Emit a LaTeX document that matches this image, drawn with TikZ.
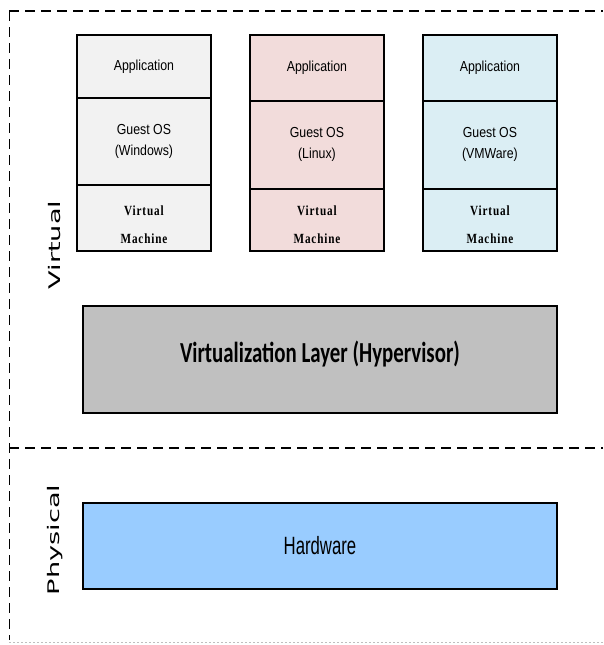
\documentclass[tikz,border=0pt]{standalone}
\usepackage{fontspec}
\setmainfont{Liberation Sans}
\newfontfamily\narrowfont[FakeStretch=0.85]{Liberation Sans}
\newfontfamily\vmfont[FakeStretch=0.8, LetterSpace=6]{Liberation Serif}
\newfontfamily\hvfont[FakeStretch=0.72]{Carlito}
\newfontfamily\sidefont{DejaVu Sans}
\newfontfamily\hwfont[FakeStretch=0.67]{Liberation Sans}
\usetikzlibrary{positioning}

\definecolor{winfill}{HTML}{F2F2F2}
\definecolor{linfill}{HTML}{F2DCDB}
\definecolor{vmwfill}{HTML}{DBEEF4}
\definecolor{hvfill}{HTML}{C0C0C0}
\definecolor{hwfill}{HTML}{99CCFF}

\tikzset{
  layer/.style={draw=black, line width=0.9pt, minimum width=133pt, inner sep=0pt, align=center, font=\narrowfont\fontsize{14.5}{21}\selectfont},
  vmtext/.style={inner sep=0pt, align=center, font=\vmfont\bfseries\fontsize{14}{28.5}\selectfont},
  bigbox/.style={draw=black, line width=2pt, minimum width=474pt, inner sep=0pt},
  sidelabel/.style={rotate=90, xscale=1.7, font=\sidefont\fontsize{16}{16}\selectfont},
  frame/.style={line width=1.2pt, dash pattern=on 10pt off 6pt}
}

\begin{document}
\begin{tikzpicture}[x=1pt, y=-1pt]
\useasboundingbox (0,0) rectangle (603,645);

% guest machines
\node[layer, fill=winfill, minimum height=62pt, anchor=north west] (app1) at (77,35) {Application};
\node[layer, fill=winfill, minimum height=86pt, below=0pt of app1] (os1) {Guest OS\\(Windows)};
\node[layer, fill=winfill, minimum height=65pt, below=0pt of os1] (vm1) {};
\node[vmtext, yshift=-7pt] (vmt1) at (vm1.center) {Virtual\\Machine};

\node[layer, fill=linfill, minimum height=65pt, anchor=north west] (app2) at (250,35) {Application};
\node[layer, fill=linfill, minimum height=87pt, below=0pt of app2] (os2) {Guest OS\\(Linux)};
\node[layer, fill=linfill, minimum height=61pt, below=0pt of os2] (vm2) {};
\node[vmtext, yshift=-5pt] (vmt2) at (vm2.center) {Virtual\\Machine};

\node[layer, fill=vmwfill, minimum height=65pt, anchor=north west] (app3) at (423,35) {Application};
\node[layer, fill=vmwfill, minimum height=87pt, below=0pt of app3] (os3) {Guest OS\\(VMWare)};
\node[layer, fill=vmwfill, minimum height=61pt, below=0pt of os3] (vm3) {};
\node[vmtext, yshift=-5pt] (vmt3) at (vm3.center) {Virtual\\Machine};

\foreach \i in {1,2,3}
  \draw[line width=1.6pt] (app\i.north west) rectangle (vm\i.south east);

% layers
\node[bigbox, fill=hvfill, minimum height=107pt, anchor=north west] (hyper) at (82,305) {};
\node[yshift=5pt] (hvtext) at (hyper.center)
  {\hvfont\bfseries\fontsize{29}{29}\selectfont Virtualization Layer (Hypervisor)};
\node[bigbox, fill=hwfill, minimum height=86pt, anchor=north west] (hw) at (82,502)
  {\hwfont\fontsize{25}{25}\selectfont Hardware};

\node[sidelabel] (virt) at (55,245) {Virtual};
\node[sidelabel] (phys) at (55,540) {Physical};

% frame
\draw[frame] (9,11) -- (603,11);
\draw[frame, line width=0.8pt] (9,11) -- (9,640);
\draw[frame, line width=1.6pt] (9,448) -- (603,448);
\draw[black!25, line width=0.8pt, dash pattern=on 2pt off 2pt] (9,642) -- (603,642);
\end{tikzpicture}
\end{document}
